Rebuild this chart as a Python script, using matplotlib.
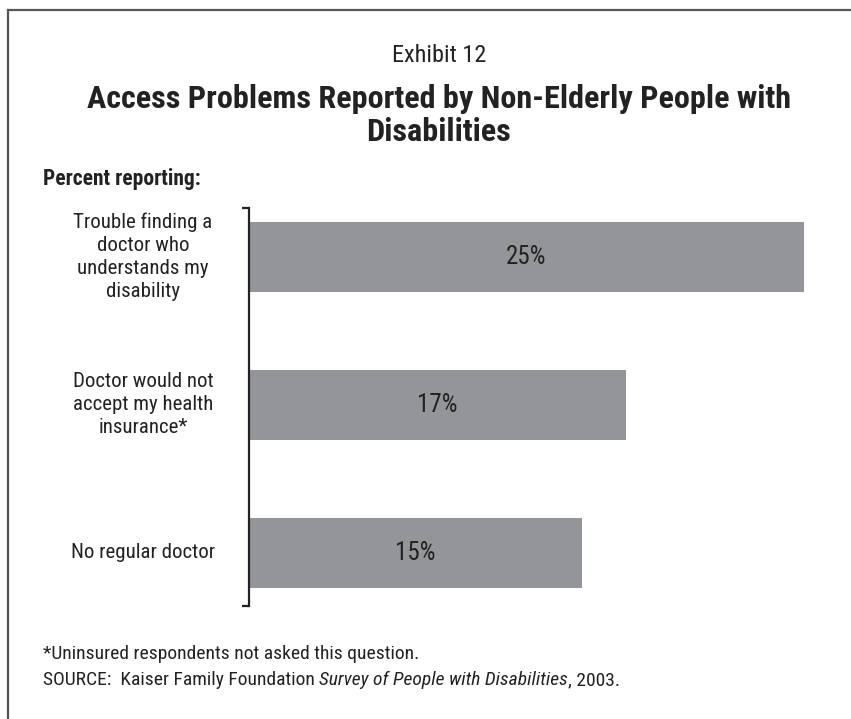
import matplotlib
matplotlib.use("Agg")
import matplotlib.pyplot as plt
from matplotlib.lines import Line2D
from matplotlib.transforms import blended_transform_factory

plt.rcParams['font.family'] = ['Roboto Condensed', 'Liberation Sans', 'DejaVu Sans']

categories = [
    "Trouble finding a\ndoctor who\nunderstands my\ndisability",
    "Doctor would not\naccept my health\ninsurance*",
    "No regular doctor",
]
values = [25, 17, 15]
value_labels = ["25%", "17%", "15%"]

W, H = 851, 719
TXT = "#222222"
fig = plt.figure(figsize=(W / 100, H / 100), dpi=100)
fig.patch.set_facecolor("white")

def fx(px):
    return px / W

def fy(py):
    return 1 - py / H

# outer frame (top and left edges)
fig.add_artist(Line2D([fx(8), fx(851)], [fy(9.5), fy(9.5)], color="#555555", lw=1.6))
fig.add_artist(Line2D([fx(8), fx(8)], [fy(9.5), fy(719)], color="#555555", lw=1.6))

ax = fig.add_axes([fx(249), fy(606), fx(804) - fx(249), fy(208) - fy(606)])
ypos = list(range(len(categories)))
ax.barh(ypos, values, height=0.47, color="#939598", edgecolor="none")
ax.set_xlim(0, 25)
ax.set_ylim(2.36, -0.33)

for s in ["top", "right", "bottom"]:
    ax.spines[s].set_visible(False)
ax.spines["left"].set_linewidth(1.6)
ax.spines["left"].set_color(TXT)
ax.set_xticks([])
ax.set_yticks([2.36, -0.33])
ax.set_yticklabels([])
ax.tick_params(axis="y", direction="out", length=5, width=1.6, color=TXT)

for y, v, lab in zip(ypos, values, value_labels):
    ax.text(v / 2, y, lab, ha="center", va="center", fontsize=18, color=TXT)

trans = blended_transform_factory(ax.transAxes, ax.transData)
for y, cat in zip(ypos, categories):
    ax.text((143 - 249) / 555, y, cat, transform=trans, ha="center", va="center",
            fontsize=15, color=TXT, linespacing=1.27)

fig.text(fx(439), fy(62), "Exhibit 12", ha="center", va="baseline", fontsize=17.5, color=TXT)
fig.text(fx(439), fy(108), "Access Problems Reported by Non-Elderly People with",
         ha="center", va="baseline", fontsize=23.2, fontweight="bold", color=TXT)
fig.text(fx(439), fy(141), "Disabilities",
         ha="center", va="baseline", fontsize=23.2, fontweight="bold", color=TXT)
fig.text(fx(43), fy(185), "Percent reporting:", ha="left", va="baseline", fontsize=15.5,
         fontweight="bold", color=TXT)

fig.text(fx(43), fy(659), "*Uninsured respondents not asked this question.", ha="left",
         va="baseline", fontsize=14, color=TXT)
src = fig.text(fx(43), fy(685), "SOURCE:  Kaiser Family Foundation ", ha="left", va="baseline",
               fontsize=14, color=TXT)
fig.canvas.draw()
bb = src.get_window_extent()
it = fig.text(bb.x1 / W, fy(685), "Survey of People with Disabilities", ha="left", va="baseline",
              fontsize=14, style="italic", color=TXT)
fig.canvas.draw()
bb2 = it.get_window_extent()
fig.text(bb2.x1 / W, fy(685), ", 2003.", ha="left", va="baseline", fontsize=14, color=TXT)

fig.savefig("out.png", dpi=100, facecolor="white")
